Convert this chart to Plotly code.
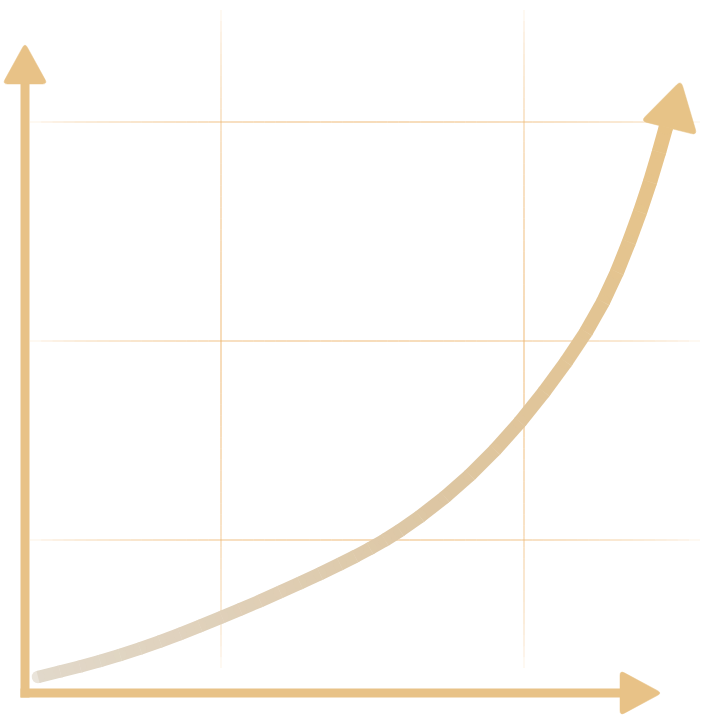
import numpy as np
import plotly.graph_objects as go

# ---------------- data (chart units: origin at the axes' corner) ----------------
curve_x = [13, 35, 55, 75, 95, 115, 135, 155, 175, 197, 215, 235, 255, 275, 295, 315,
           330, 345, 360, 375, 395, 420, 445, 470, 495, 519, 541, 561, 578, 592, 604,
           615, 625, 634, 641]
curve_y = [16, 21.5, 26.5, 32, 38, 44.5, 51.5, 59, 67, 76, 83.5, 92, 101, 110, 119.2, 129,
           136.5, 144.5, 153, 162.5, 176.5, 196, 218, 243, 271, 301, 331, 361, 391, 421,
           451, 481, 511, 541, 566]
grid_x = [196, 499]          # vertical guide lines
grid_y = [153, 352, 571]     # horizontal guide lines

# ---------------- layout constants ----------------
W, H = 704, 719
OX, OY = 25, 693             # pixel position of the origin
XR = [-OX, W - OX]
YR = [-(H - OY), OY]

AXIS_COLOR = "rgb(232,194,135)"
GRID_RGB = (238, 182, 112)

fig = go.Figure()
shapes = []

# ---------------- fading grid lines ----------------
NSEG = 60
def fade(t):
    return 0.95 * (np.sin(np.pi * t) ** 0.45)

for gx in grid_x:
    y0, y1 = 25, 683
    for k in range(NSEG):
        a, b = k / NSEG, (k + 1) / NSEG
        al = fade((a + b) / 2)
        shapes.append(dict(type="line", xref="x", yref="y", layer="below",
                           x0=gx, x1=gx, y0=y0 + (y1 - y0) * a, y1=y0 + (y1 - y0) * b,
                           line=dict(color=f"rgba({GRID_RGB[0]},{GRID_RGB[1]},{GRID_RGB[2]},{al:.3f})", width=1)))
for gy in grid_y:
    x0, x1 = 5, 675
    for k in range(NSEG):
        a, b = k / NSEG, (k + 1) / NSEG
        al = fade((a + b) / 2)
        shapes.append(dict(type="line", xref="x", yref="y", layer="below",
                           x0=x0 + (x1 - x0) * a, x1=x0 + (x1 - x0) * b, y0=gy, y1=gy,
                           line=dict(color=f"rgba({GRID_RGB[0]},{GRID_RGB[1]},{GRID_RGB[2]},{al:.3f})", width=1)))

# ---------------- gradient curve ----------------
cx = np.array(curve_x, float)
cy = np.array(curve_y, float)
seg = np.hypot(np.diff(cx), np.diff(cy))
s = np.concatenate([[0], np.cumsum(seg)])
tpos = s / s[-1]

stops_t = [0.0, 0.5, 1.0]
stops_c = np.array([(225, 216, 202), (221, 198, 162), (231, 195, 135)], float)

def col(t):
    r = np.interp(t, stops_t, stops_c[:, 0])
    g = np.interp(t, stops_t, stops_c[:, 1])
    b = np.interp(t, stops_t, stops_c[:, 2])
    return f"rgb({r:.0f},{g:.0f},{b:.0f})"

def wid(t):
    return 12.5 + 2.0 * t

for i in range(len(cx) - 1):
    tm = (tpos[i] + tpos[i + 1]) / 2
    fig.add_trace(go.Scatter(x=[cx[i], cx[i + 1]], y=[cy[i], cy[i + 1]], mode="lines",
                             line=dict(color=col(tm), width=wid(tm)),
                             hoverinfo="skip", showlegend=False))
fig.add_trace(go.Scatter(x=cx, y=cy, mode="markers",
                         marker=dict(color=[col(t) for t in tpos], size=[wid(t) for t in tpos],
                                     line=dict(width=0)),
                         hoverinfo="skip", showlegend=False))

# ---------------- axes with arrowheads ----------------
def rounded_tri(pts, r):
    pts = [np.array(p, float) for p in pts]
    path = ""
    for i in range(3):
        p_prev, p, p_next = pts[i - 1], pts[i], pts[(i + 1) % 3]
        a = p + (p_prev - p) / np.linalg.norm(p_prev - p) * r
        b = p + (p_next - p) / np.linalg.norm(p_next - p) * r
        path += ("M" if i == 0 else "L") + f"{a[0]:.2f},{a[1]:.2f} "
        path += f"Q{p[0]:.2f},{p[1]:.2f} {b[0]:.2f},{b[1]:.2f} "
    return path + "Z"

def arrow_shape(base, direction, length, width, color, r=5):
    d = np.array(direction, float)
    d /= np.linalg.norm(d)
    n = np.array([-d[1], d[0]])
    base = np.array(base, float)
    tip = base + d * length
    p1 = base + n * width / 2
    p2 = base - n * width / 2
    return dict(type="path", xref="x", yref="y", layer="above",
                path=rounded_tri([tip, p1, p2], r),
                fillcolor=color, line=dict(color=color, width=0.5))

# y axis
shapes.append(dict(type="line", xref="x", yref="y", layer="above", x0=0, x1=0, y0=-4.5, y1=612,
                   line=dict(color=AXIS_COLOR, width=9)))
shapes.append(arrow_shape((0, 609), (0, 1), 41, 45, AXIS_COLOR))
# x axis
shapes.append(dict(type="line", xref="x", yref="y", layer="above", x0=-4.5, x1=598, y0=0, y1=0,
                   line=dict(color=AXIS_COLOR, width=9)))
shapes.append(arrow_shape((595, 0), (1, 0), 42, 45, AXIS_COLOR))
# curve arrowhead, oriented along the last part of the curve
dir_end = (cx[-1] - cx[-2], cy[-1] - cy[-2])
shapes.append(arrow_shape((cx[-1] + 3, cy[-1] - 1), (dir_end[0] * 0.9, dir_end[1]), 49, 58,
                          "rgb(231,195,135)", r=6))

fig.update_layout(
    width=W, height=H,
    margin=dict(l=0, r=0, t=0, b=0),
    paper_bgcolor="white", plot_bgcolor="white",
    showlegend=False,
    shapes=shapes,
    xaxis=dict(range=XR, visible=False, fixedrange=True),
    yaxis=dict(range=YR, visible=False, fixedrange=True),
)

fig.write_html("out.html", config={"displayModeBar": False},
               post_script="document.body.style.margin='0';document.body.style.overflow='hidden';")
